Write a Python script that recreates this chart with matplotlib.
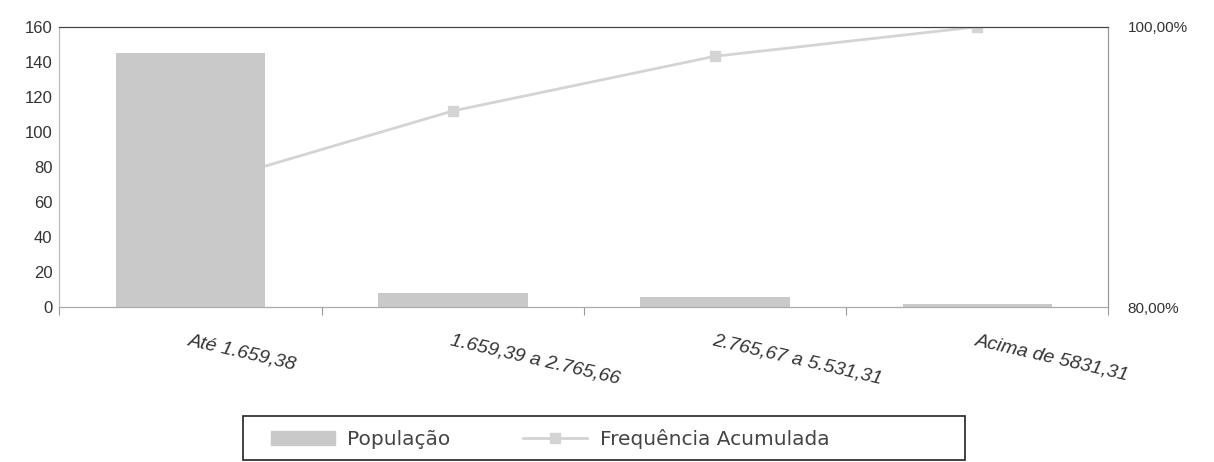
import matplotlib
matplotlib.use("Agg")
import matplotlib.pyplot as plt
from matplotlib.patches import Patch, Rectangle
from matplotlib.lines import Line2D

# data
categorias = ["Até 1.659,38", "1.659,39 a 2.765,66", "2.765,67 a 5.531,31", "Acima de 5831,31"]
populacao = [145, 8, 6, 2]
freq_acum = [0.885, 0.940, 0.979, 1.000]

plt.rcParams['font.family'] = ['Liberation Sans', 'DejaVu Sans']

fig = plt.figure(figsize=(12.14, 4.62), dpi=100)
ax = fig.add_axes([0.049, 0.335, 0.864, 0.607])
ax2 = ax.twinx()

x = list(range(len(categorias)))
bar_col = "#c9c9c9"
line_col = "#d4d4d4"

# line under the bars
ax.set_zorder(ax2.get_zorder() + 1)
ax.patch.set_visible(False)
ax2.plot(x, freq_acum, color=line_col, lw=2, marker="s", ms=7, mfc=line_col, mec=line_col)
ax.bar(x, populacao, width=0.57, color=bar_col)

ax.set_xlim(-0.5, 3.5)
ax.set_ylim(0, 160)
ax.set_yticks(range(0, 161, 20))
ax2.set_ylim(0.8, 1.0)
ax2.set_yticks([0.8, 1.0])
ax2.set_yticklabels(["80,00%", "100,00%"])

ax.set_xticks([-0.5, 0.5, 1.5, 2.5, 3.5])
ax.set_xticklabels([])
ax.tick_params(axis="x", length=6, color="#999999")
for i, lab in enumerate(categorias):
    ax.text(i, -14, lab, rotation=-13, ha="left", va="top", rotation_mode="anchor",
            fontsize=14, color="#333333", fontstyle="italic", family="Liberation Sans")

ax.tick_params(axis="y", length=0, labelsize=12, labelcolor="#333333", pad=5)
ax2.tick_params(axis="y", length=0, labelsize=11, labelcolor="#333333", pad=14)

for a in (ax, ax2):
    a.spines["left"].set_color("#bbbbbb")
    a.spines["bottom"].set_color("#aaaaaa")
    a.spines["top"].set_color("#444444")
    a.spines["right"].set_color("#999999")

# legend box drawn separately (Excel style, extra room on the right)
fig.patches.append(Rectangle((0.2, 0.005), 0.595, 0.095, transform=fig.transFigure,
                             fill=False, edgecolor="#222222", lw=1.2))
handles = [Patch(color=bar_col), Line2D([0], [0], color=line_col, lw=2, marker="s", ms=7)]
leg = fig.legend(handles, ["População", "Frequência Acumulada"], loc="center",
                 bbox_to_anchor=(0.453, 0.05), ncol=2, frameon=False,
                 handlelength=3.2, handletextpad=0.6, columnspacing=3.6,
                 prop={"family": ["DejaVu Sans"], "size": 14.5})
for t in leg.get_texts():
    t.set_color("#444444")

fig.savefig("out.png", dpi=100)
